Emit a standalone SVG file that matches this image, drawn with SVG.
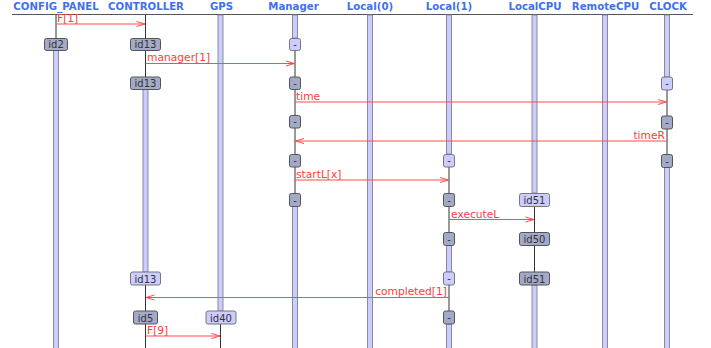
<svg xmlns="http://www.w3.org/2000/svg" width="711" height="348" viewBox="0 0 711 348">
  <style>
    .hdr { font-family: "DejaVu Sans", sans-serif; font-weight: bold; font-size: 10.2px; fill: #3f70f0; text-anchor: middle; }
    .life { stroke: #333; stroke-width: 1; fill: none; }
    .bar { fill: #ccccff; stroke: #80808f; stroke-width: 0.9; }
    .dk { fill: #a3aac8; stroke: #555; stroke-width: 1; }
    .lt { fill: #ccccff; stroke: #777; stroke-width: 1; }
    .bt { font-family: "DejaVu Sans", sans-serif; font-size: 10px; fill: #333; text-anchor: middle; }
    .msg { stroke: #ff4d4d; stroke-width: 1; fill: none; marker-end: url(#head); }
    .ml { font-family: "DejaVu Sans", sans-serif; font-size: 10.7px; fill: #ff3b3b; }
  </style>
  <defs>
    <marker id="head" markerUnits="userSpaceOnUse" markerWidth="10" markerHeight="8" viewBox="0 0 10 8" refX="9.5" refY="4" orient="auto">
      <path d="M1,1.5 L9.5,4 L1,6.5" fill="none" stroke="#ff4d4d" stroke-width="1"/>
    </marker>
  </defs>

  <rect width="711" height="348" fill="#ffffff"/>
  <line x1="12" y1="14.5" x2="693" y2="14.5" stroke="#555" stroke-width="1"/>

  <!-- CONFIG_PANEL -->
  <g id="config_panel">
    <text class="hdr" x="56" y="10">CONFIG_PANEL</text>
    <line class="life" x1="56" y1="15" x2="56" y2="38"/>
    <rect class="bar" x="53.5" y="50" width="5" height="300"/>
    <rect class="dk" x="44.5" y="38.5" width="23" height="12" rx="2"/>
    <text class="bt" x="56" y="48">id2</text>
  </g>

  <!-- CONTROLLER -->
  <g id="controller">
    <text class="hdr" x="146" y="10">CONTROLLER</text>
    <line class="life" x1="145.5" y1="15" x2="145.5" y2="38"/>
    <line class="life" x1="145.5" y1="50" x2="145.5" y2="77"/>
    <rect class="bar" x="143" y="89" width="5" height="183"/>
    <line class="life" x1="145.5" y1="285" x2="145.5" y2="311"/>
    <line class="life" x1="145.5" y1="324" x2="145.5" y2="348"/>
    <rect class="dk" x="130.5" y="38.5" width="30" height="12" rx="2"/>
    <text class="bt" x="145.5" y="48">id13</text>
    <rect class="dk" x="130.5" y="77" width="30" height="12.5" rx="2"/>
    <text class="bt" x="145.5" y="87">id13</text>
    <rect class="lt" x="130.5" y="272" width="30" height="13" rx="2"/>
    <text class="bt" x="145.5" y="282.5">id13</text>
    <rect class="dk" x="133.5" y="311" width="24" height="13" rx="2"/>
    <text class="bt" x="145.5" y="321.5">id5</text>
  </g>

  <!-- GPS -->
  <g id="gps">
    <text class="hdr" x="221.5" y="10">GPS</text>
    <rect class="bar" x="218" y="15" width="5" height="296"/>
    <line class="life" x1="220.5" y1="324" x2="220.5" y2="348"/>
    <rect class="lt" x="206" y="311" width="30" height="13" rx="2"/>
    <text class="bt" x="221" y="321.5">id40</text>
  </g>

  <!-- Manager -->
  <g id="manager">
    <text class="hdr" x="293.5" y="10">Manager</text>
    <rect class="bar" x="292.5" y="15" width="5" height="23"/>
    <line class="life" x1="295" y1="50" x2="295" y2="77"/>
    <line class="life" x1="295" y1="89" x2="295" y2="116"/>
    <line class="life" x1="295" y1="128" x2="295" y2="154"/>
    <line class="life" x1="295" y1="167" x2="295" y2="193"/>
    <rect class="bar" x="292.5" y="206" width="5" height="144"/>
    <rect class="lt" x="289.5" y="38.5" width="11" height="12" rx="2"/>
    <text class="bt" x="295" y="47.5">-</text>
    <rect class="dk" x="289.5" y="77" width="11" height="12.5" rx="2"/>
    <text class="bt" x="295" y="86.5">-</text>
    <rect class="dk" x="289.5" y="115.5" width="11" height="12.5" rx="2"/>
    <text class="bt" x="295" y="125">-</text>
    <rect class="dk" x="289.5" y="154.5" width="11" height="12.5" rx="2"/>
    <text class="bt" x="295" y="164">-</text>
    <rect class="dk" x="289.5" y="193.5" width="11" height="13" rx="2"/>
    <text class="bt" x="295" y="203.5">-</text>
  </g>

  <!-- Local(0) -->
  <g id="local0">
    <text class="hdr" x="370" y="10">Local(0)</text>
    <rect class="bar" x="367.5" y="15" width="5" height="335"/>
  </g>

  <!-- Local(1) -->
  <g id="local1">
    <text class="hdr" x="449" y="10">Local(1)</text>
    <rect class="bar" x="446.5" y="15" width="5" height="139"/>
    <line class="life" x1="449" y1="167" x2="449" y2="193"/>
    <line class="life" x1="449" y1="206" x2="449" y2="232"/>
    <rect class="bar" x="446.5" y="245" width="5" height="27"/>
    <line class="life" x1="449" y1="285" x2="449" y2="311"/>
    <rect class="bar" x="446.5" y="324" width="5" height="26"/>
    <rect class="lt" x="443.5" y="154.5" width="11" height="12.5" rx="2"/>
    <text class="bt" x="449" y="164">-</text>
    <rect class="dk" x="443.5" y="193.5" width="11" height="13" rx="2"/>
    <text class="bt" x="449" y="203.5">-</text>
    <rect class="dk" x="443.5" y="232.5" width="11" height="13" rx="2"/>
    <text class="bt" x="449" y="242.5">-</text>
    <rect class="lt" x="443.5" y="272" width="11" height="13" rx="2"/>
    <text class="bt" x="449" y="282">-</text>
    <rect class="dk" x="443.5" y="311" width="11" height="13" rx="2"/>
    <text class="bt" x="449" y="321">-</text>
  </g>

  <!-- LocalCPU -->
  <g id="localcpu">
    <text class="hdr" x="535" y="10">LocalCPU</text>
    <rect class="bar" x="532" y="15" width="5" height="178"/>
    <line class="life" x1="534.5" y1="206" x2="534.5" y2="232"/>
    <line class="life" x1="534.5" y1="245" x2="534.5" y2="272"/>
    <rect class="bar" x="532" y="285" width="5" height="65"/>
    <rect class="lt" x="519.5" y="193.5" width="30" height="13" rx="2"/>
    <text class="bt" x="534.5" y="204">id51</text>
    <rect class="dk" x="519.5" y="232.5" width="30" height="13" rx="2"/>
    <text class="bt" x="534.5" y="243">id50</text>
    <rect class="dk" x="519.5" y="272" width="30" height="13" rx="2"/>
    <text class="bt" x="534.5" y="282.5">id51</text>
  </g>

  <!-- RemoteCPU -->
  <g id="remotecpu">
    <text class="hdr" x="605.5" y="10">RemoteCPU</text>
    <rect class="bar" x="602.5" y="15" width="5" height="335"/>
  </g>

  <!-- CLOCK -->
  <g id="clock">
    <text class="hdr" x="668" y="10">CLOCK</text>
    <rect class="bar" x="664.5" y="15" width="5" height="62"/>
    <line class="life" x1="667" y1="90" x2="667" y2="116"/>
    <line class="life" x1="667" y1="129" x2="667" y2="154"/>
    <rect class="bar" x="664.5" y="167" width="5" height="183"/>
    <rect class="lt" x="661.5" y="77" width="11" height="13" rx="2"/>
    <text class="bt" x="667" y="87">-</text>
    <rect class="dk" x="661.5" y="116" width="11" height="13" rx="2"/>
    <text class="bt" x="667" y="126">-</text>
    <rect class="dk" x="661.5" y="154.5" width="11" height="13" rx="2"/>
    <text class="bt" x="667" y="164.5">-</text>
  </g>

  <!-- Messages -->
  <g id="connectors">
    <line class="msg" x1="56" y1="24" x2="145" y2="24"/>
    <text class="ml" x="57" y="22">F[1]</text>

    <line class="msg" x1="145.5" y1="63.5" x2="294.5" y2="63.5"/>
    <text class="ml" x="147" y="61">manager[1]</text>

    <line class="msg" x1="295" y1="102" x2="666.5" y2="102"/>
    <text class="ml" x="296" y="100">time</text>

    <line class="msg" x1="667" y1="141" x2="295.5" y2="141"/>
    <text class="ml" x="665" y="139" text-anchor="end">timeR</text>

    <line class="msg" x1="295" y1="180" x2="448.5" y2="180"/>
    <text class="ml" x="296" y="178">startL[x]</text>

    <line class="msg" x1="449" y1="219.5" x2="534" y2="219.5"/>
    <text class="ml" x="451" y="217.5">executeL</text>

    <line class="msg" x1="449" y1="297.5" x2="146" y2="297.5"/>
    <text class="ml" x="447" y="295" text-anchor="end">completed[1]</text>

    <line class="msg" x1="145.5" y1="336" x2="220" y2="336"/>
    <text class="ml" x="147" y="334">F[9]</text>
  </g>
</svg>
